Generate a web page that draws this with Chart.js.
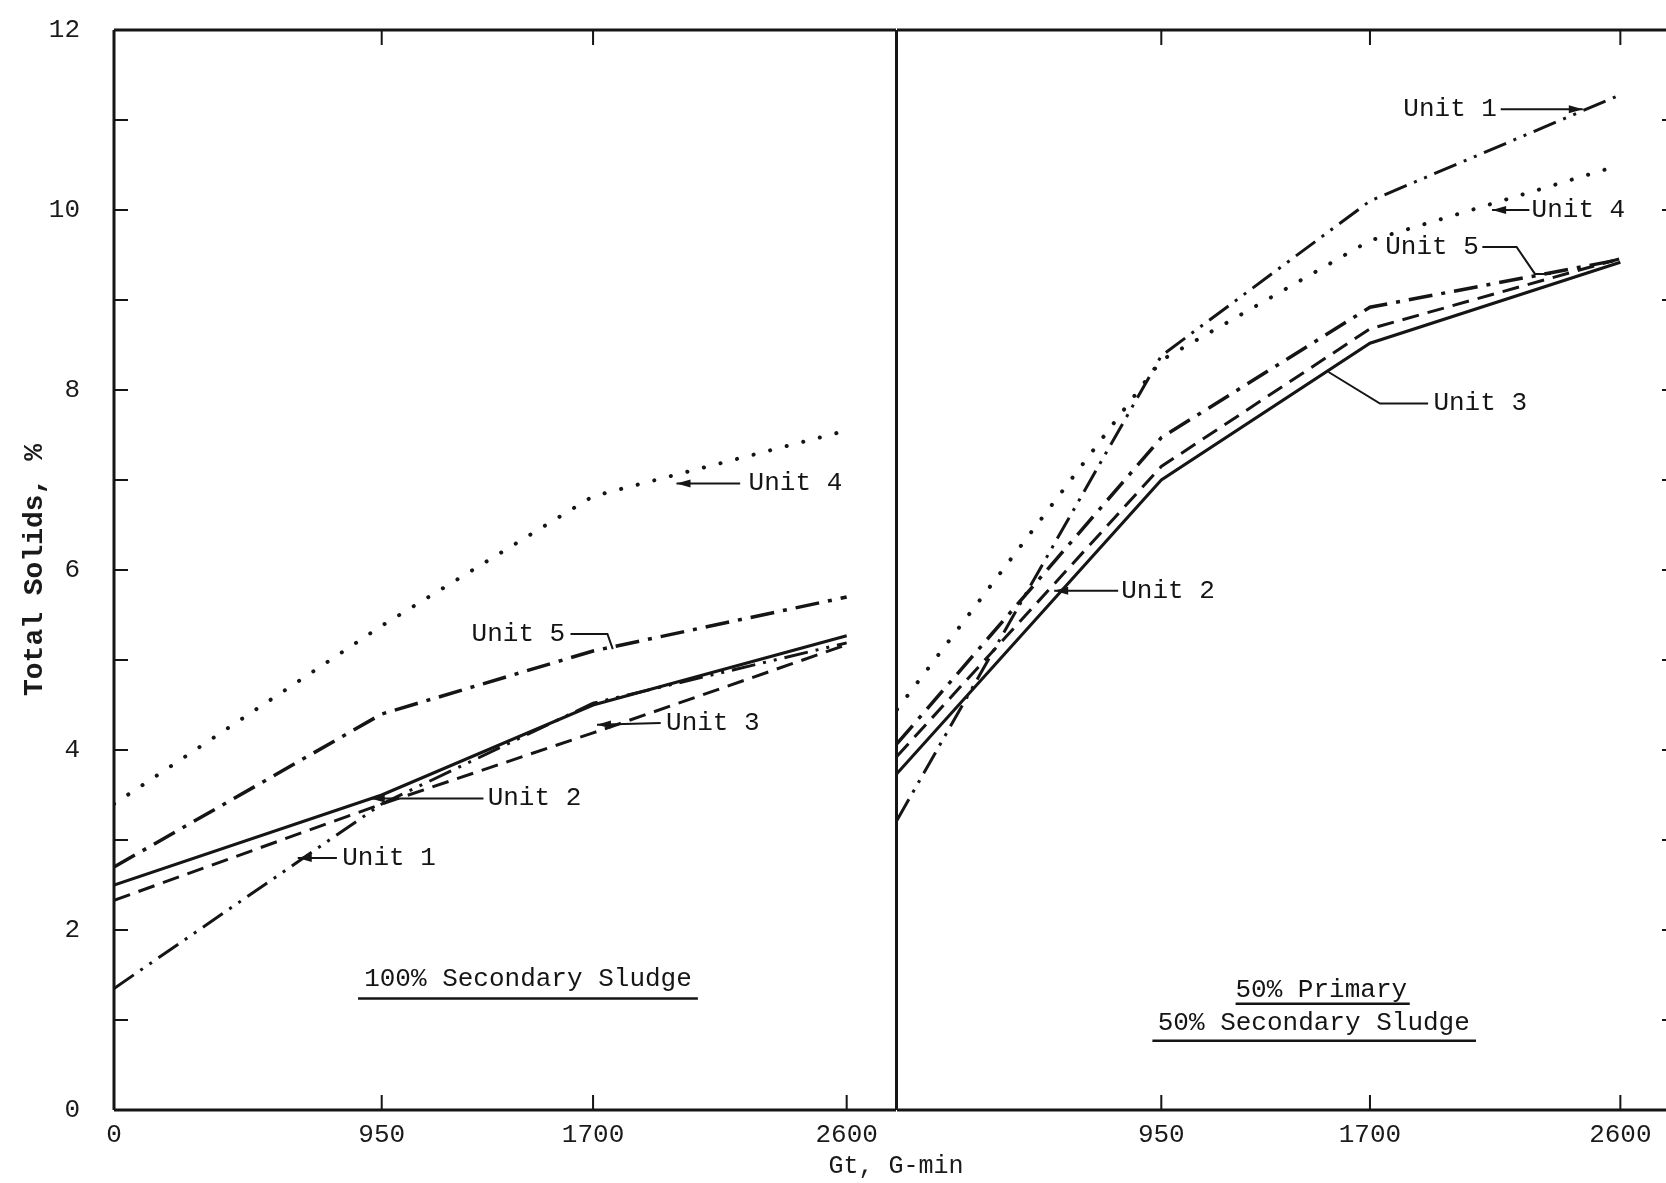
<!DOCTYPE html>
<html lang="en">
<head>
  <meta charset="UTF-8">
  <title>Total Solids vs Gt</title>
  <script src="https://cdn.jsdelivr.net/npm/chart.js@4.4.0/dist/chart.umd.min.js"></script>
  <style>
    html, body { margin: 0; padding: 0; background: #fff; }
    body { width: 1666px; height: 1183px; overflow: hidden; position: relative; }
    #leftChart { position: absolute; left: 0; top: 0; }
    #rightChart { position: absolute; left: 890px; top: 0; }
    #xTitle {
      position: absolute; left: 746px; width: 300px; top: 1152px;
      text-align: center; font: 25px "Liberation Mono", monospace; color: #1a1a1a;
    }
  </style>
</head>
<body>
  <canvas id="leftChart" width="898" height="1183"></canvas>
  <canvas id="rightChart" width="790" height="1183"></canvas>
  <div id="xTitle">Gt, G-min</div>

  <script>
    // Gt values (G-min) where total solids were measured
    const gt = [0, 950, 1700, 2600];
    const xTicksLeft = [0, 950, 1700, 2600];
    const xTicksRight = [950, 1700, 2600];
    const yTickLabels = [0, 2, 4, 6, 8, 10, 12];

    // 100% secondary sludge - total solids, %
    const sec_unit1 = [1.35, 3.40, 4.52, 5.19];
    const sec_unit2 = [2.50, 3.50, 4.50, 5.27];
    const sec_unit3 = [2.33, 3.40, 4.19, 5.17];
    const sec_unit4 = [3.40, 5.38, 6.82, 7.55];
    const sec_unit5 = [2.70, 4.40, 5.10, 5.70];

    // 50% primary / 50% secondary sludge - total solids, %
    const mix_unit1 = [3.22, 8.38, 10.10, 11.28];
    const mix_unit2 = [3.74, 7.00, 8.52, 9.42];
    const mix_unit3 = [3.93, 7.15, 8.68, 9.46];
    const mix_unit4 = [4.45, 8.33, 9.66, 10.50];
    const mix_unit5 = [4.07, 7.47, 8.92, 9.45];

    const INK = '#151515';
    const FONT = '"Liberation Mono", "DejaVu Sans Mono", monospace';

    // line look of each unit (same in both panels)
    const unitStyle = {
      'Unit 1': { dash: [24, 8, 3, 8, 3, 8], width: 3, cap: 'butt' },
      'Unit 2': { dash: [], width: 3, cap: 'butt' },
      'Unit 3': { dash: [17, 9], width: 3, cap: 'butt' },
      'Unit 4': { dash: [0.1, 17], width: 4, cap: 'round' },
      'Unit 5': { dash: [24, 9, 4, 9], width: 3.5, cap: 'butt' }
    };

    // labels + leader lines, in data units of each panel
    const leftNotes = [
      { text: 'Unit 4', at: [2252, 6.96], path: [[2222, 6.96], [1996, 6.96]], head: true },
      { text: 'Unit 5', at: [1269, 5.29], path: [[1620, 5.29], [1751, 5.29], [1770, 5.12]], head: false },
      { text: 'Unit 3', at: [1959, 4.30], path: [[1940, 4.30], [1714, 4.28]], head: true },
      { text: 'Unit 2', at: [1326, 3.46], path: [[1311, 3.46], [911, 3.46]], head: true },
      { text: 'Unit 1', at: [810, 2.80], path: [[791, 2.80], [652, 2.80]], head: true }
    ];
    const leftCaptions = [
      { text: '100% Secondary Sludge', at: [1469, 1.45], line: [866, 2072, 1.24] }
    ];

    const rightNotes = [
      { text: 'Unit 1', at: [1820, 11.12], path: [[2170, 11.12], [2465, 11.12]], head: true },
      { text: 'Unit 4', at: [2281, 10.0], path: [[2273, 10.0], [2139, 10.0]], head: true },
      { text: 'Unit 5', at: [1755, 9.59], path: [[2104, 9.59], [2227, 9.59], [2293, 9.29], [2350, 9.29]], head: false },
      { text: 'Unit 3', at: [1928, 7.85], path: [[1909, 7.85], [1736, 7.85], [1551, 8.20]], head: false },
      { text: 'Unit 2', at: [806, 5.77], path: [[795, 5.77], [565, 5.77]], head: true }
    ];
    const rightCaptions = [
      { text: '50% Primary', at: [1525, 1.33], line: [1217, 1843, 1.18] },
      { text: '50% Secondary Sludge', at: [1498, 0.97], line: [918, 2081, 0.77] }
    ];

    function buildDatasets(series) {
      return Object.keys(series).map(name => {
        const st = unitStyle[name];
        return {
          label: name,
          data: series[name].map((v, i) => ({ x: gt[i], y: v })),
          borderColor: INK,
          borderWidth: st.width,
          borderDash: st.dash,
          borderCapStyle: st.cap,
          pointRadius: 0,
          tension: 0,
          fill: false
        };
      });
    }

    // frame + inward tick marks
    const framePlugin = {
      id: 'frame',
      afterDraw(chart, args, opts) {
        const { ctx, chartArea: a, scales } = chart;
        const x = scales.x, y = scales.y;
        ctx.save();
        ctx.strokeStyle = INK;
        ctx.lineCap = 'butt';
        ctx.setLineDash([]);

        ctx.lineWidth = 3;
        ctx.beginPath();
        ctx.moveTo(a.left, a.top); ctx.lineTo(a.right, a.top);
        ctx.moveTo(a.left, a.bottom); ctx.lineTo(a.right, a.bottom);
        ctx.stroke();

        ctx.lineWidth = opts.leftWidth;
        ctx.beginPath(); ctx.moveTo(a.left, a.top); ctx.lineTo(a.left, a.bottom); ctx.stroke();
        ctx.lineWidth = opts.rightWidth;
        ctx.beginPath(); ctx.moveTo(a.right, a.top); ctx.lineTo(a.right, a.bottom); ctx.stroke();

        ctx.lineWidth = 2;
        ctx.beginPath();
        opts.bottomTicks.forEach(v => {
          const px = x.getPixelForValue(v);
          ctx.moveTo(px, a.bottom); ctx.lineTo(px, a.bottom - 15);
        });
        opts.topTicks.forEach(v => {
          const px = x.getPixelForValue(v);
          ctx.moveTo(px, a.top); ctx.lineTo(px, a.top + 15);
        });
        for (let v = 1; v < 12; v++) {
          const py = y.getPixelForValue(v);
          if (opts.side === 'left') { ctx.moveTo(a.left, py); ctx.lineTo(a.left + 14, py); }
          else { ctx.moveTo(a.right, py); ctx.lineTo(a.right - 14, py); }
        }
        ctx.stroke();
        ctx.restore();
      }
    };

    // unit labels with leader arrows, and underlined captions
    const notesPlugin = {
      id: 'notes',
      afterDraw(chart, args, opts) {
        const { ctx, scales } = chart;
        const px = p => [scales.x.getPixelForValue(p[0]), scales.y.getPixelForValue(p[1])];
        ctx.save();
        ctx.fillStyle = INK;
        ctx.strokeStyle = INK;
        ctx.setLineDash([]);
        ctx.font = '26px ' + FONT;
        ctx.textBaseline = 'middle';

        opts.notes.forEach(n => {
          const [tx, ty] = px(n.at);
          ctx.textAlign = 'left';
          ctx.fillText(n.text, tx, ty);
          const pts = n.path.map(px);
          ctx.lineWidth = 2;
          ctx.beginPath();
          pts.forEach((p, i) => i ? ctx.lineTo(p[0], p[1]) : ctx.moveTo(p[0], p[1]));
          ctx.stroke();
          if (n.head) {
            const [x1, y1] = pts[pts.length - 2];
            const [x2, y2] = pts[pts.length - 1];
            const ang = Math.atan2(y2 - y1, x2 - x1);
            ctx.beginPath();
            ctx.moveTo(x2, y2);
            ctx.lineTo(x2 - 14 * Math.cos(ang) + 4 * Math.sin(ang), y2 - 14 * Math.sin(ang) - 4 * Math.cos(ang));
            ctx.lineTo(x2 - 14 * Math.cos(ang) - 4 * Math.sin(ang), y2 - 14 * Math.sin(ang) + 4 * Math.cos(ang));
            ctx.closePath();
            ctx.fill();
          }
        });

        opts.captions.forEach(c => {
          const [tx, ty] = px(c.at);
          ctx.textAlign = 'center';
          ctx.fillText(c.text, tx, ty);
          const x1 = scales.x.getPixelForValue(c.line[0]);
          const x2 = scales.x.getPixelForValue(c.line[1]);
          const ly = scales.y.getPixelForValue(c.line[2]);
          ctx.lineWidth = 2.5;
          ctx.beginPath(); ctx.moveTo(x1, ly); ctx.lineTo(x2, ly); ctx.stroke();
        });
        ctx.restore();
      }
    };

    function xScale(max, ticks) {
      return {
        type: 'linear',
        min: 0,
        max: max,
        grid: { display: false, drawTicks: false },
        border: { display: false },
        ticks: {
          color: '#1a1a1a',
          font: { family: FONT, size: 26 },
          padding: 10,
          maxRotation: 0,
          autoSkip: false,
          callback: v => String(v)
        },
        afterBuildTicks: s => { s.ticks = ticks.map(v => ({ value: v })); },
        afterFit: s => { s.height = 73; }
      };
    }

    const leftChart = new Chart(document.getElementById('leftChart'), {
      type: 'line',
      data: {
        datasets: buildDatasets({
          'Unit 1': sec_unit1, 'Unit 2': sec_unit2, 'Unit 3': sec_unit3,
          'Unit 4': sec_unit4, 'Unit 5': sec_unit5
        })
      },
      options: {
        responsive: false,
        animation: false,
        layout: { padding: { left: 10, right: 2, top: 30, bottom: 0 } },
        plugins: {
          legend: { display: false },
          tooltip: { enabled: false },
          frame: { side: 'left', leftWidth: 3, rightWidth: 2, bottomTicks: [950, 1700, 2600], topTicks: [950, 1700] },
          notes: { notes: leftNotes, captions: leftCaptions }
        },
        scales: {
          x: xScale(2775, xTicksLeft),
          y: {
            min: 0,
            max: 12,
            grid: { display: false, drawTicks: false },
            border: { display: false },
            ticks: {
              color: '#1a1a1a',
              font: { family: FONT, size: 26 },
              padding: 34
            },
            afterBuildTicks: s => { s.ticks = yTickLabels.map(v => ({ value: v })); },
            title: {
              display: true,
              text: 'Total Solids, %',
              color: '#1a1a1a',
              font: { family: FONT, size: 28, weight: 'bold' },
              padding: { top: 8, bottom: 0 }
            },
            afterFit: s => { s.width = 104; s.paddingTop = 0; s.paddingBottom = 0; }
          }
        }
      },
      plugins: [framePlugin, notesPlugin]
    });

    const rightChart = new Chart(document.getElementById('rightChart'), {
      type: 'line',
      data: {
        datasets: buildDatasets({
          'Unit 1': mix_unit1, 'Unit 2': mix_unit2, 'Unit 3': mix_unit3,
          'Unit 4': mix_unit4, 'Unit 5': mix_unit5
        })
      },
      options: {
        responsive: false,
        animation: false,
        layout: { padding: { left: 7, right: 4, top: 30, bottom: 0 } },
        plugins: {
          legend: { display: false },
          tooltip: { enabled: false },
          frame: { side: 'right', leftWidth: 2, rightWidth: 3, bottomTicks: [950, 1700, 2600], topTicks: [950, 1700, 2600] },
          notes: { notes: rightNotes, captions: rightCaptions }
        },
        scales: {
          x: xScale(2800, xTicksRight),
          y: { min: 0, max: 12, display: false }
        }
      },
      plugins: [framePlugin, notesPlugin]
    });
  </script>
</body>
</html>
